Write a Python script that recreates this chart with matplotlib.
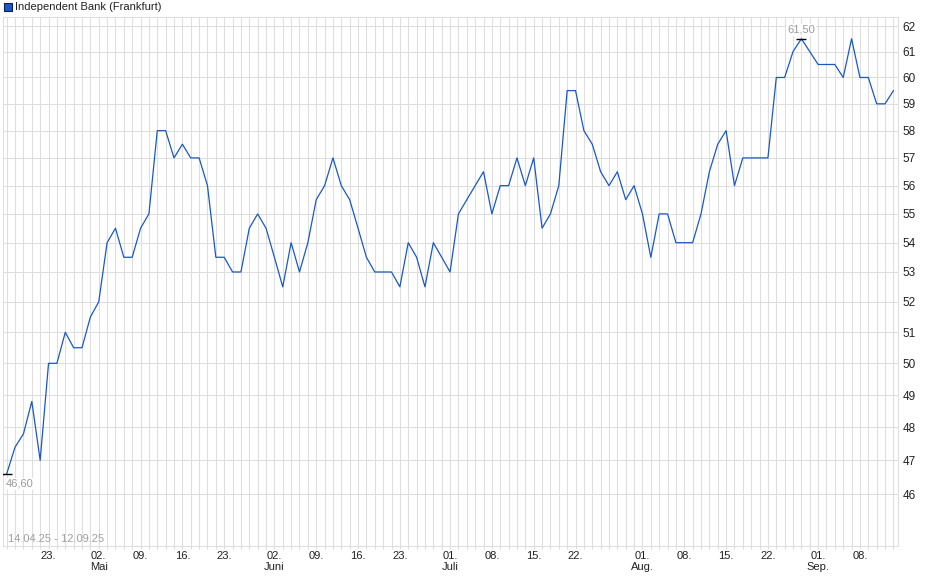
import numpy as np
import pandas as pd
import matplotlib.pyplot as plt
from matplotlib.patches import Rectangle
from matplotlib.ticker import FixedLocator, NullFormatter, NullLocator

plt.rcParams['font.family'] = ['Liberation Sans', 'DejaVu Sans']

# trading days Frankfurt 14.04.25 - 12.09.25 (holidays removed)
holidays = ['2025-04-18', '2025-04-21', '2025-05-01']
days = pd.bdate_range('2025-04-14', '2025-09-12')
days = days[~days.isin(pd.to_datetime(holidays))]

prices = [46.6, 47.4, 47.8, 48.8, 47.0, 50.0, 50.0, 51.0, 50.5, 50.5,
          51.5, 52.0, 54.0, 54.5, 53.5, 53.5, 54.5, 55.0, 58.0, 58.0,
          57.0, 57.5, 57.0, 57.0, 56.0, 53.5, 53.5, 53.0, 53.0, 54.5,
          55.0, 54.5, 53.5, 52.5, 54.0, 53.0, 54.0, 55.5, 56.0, 57.0,
          56.0, 55.5, 54.5, 53.5, 53.0, 53.0, 53.0, 52.5, 54.0, 53.5,
          52.5, 54.0, 53.5, 53.0, 55.0, 55.5, 56.0, 56.5, 55.0, 56.0,
          56.0, 57.0, 56.0, 57.0, 54.5, 55.0, 56.0, 59.5, 59.5, 58.0,
          57.5, 56.5, 56.0, 56.5, 55.5, 56.0, 55.0, 53.5, 55.0, 55.0,
          54.0, 54.0, 54.0, 55.0, 56.5, 57.5, 58.0, 56.0, 57.0, 57.0,
          57.0, 57.0, 60.0, 60.0, 61.0, 61.5, 61.0, 60.5, 60.5, 60.5,
          60.0, 61.5, 60.0, 60.0, 59.0, 59.0, 59.5]

tick_dates = ['2025-04-23', '2025-05-02', '2025-05-09', '2025-05-16', '2025-05-23',
              '2025-06-02', '2025-06-09', '2025-06-16', '2025-06-23',
              '2025-07-01', '2025-07-08', '2025-07-15', '2025-07-22',
              '2025-08-01', '2025-08-08', '2025-08-15', '2025-08-22',
              '2025-09-01', '2025-09-08']
tick_labels = ['23.', '02.\nMai', '09.', '16.', '23.',
               '02.\nJuni', '09.', '16.', '23.',
               '01.\nJuli', '08.', '15.', '22.',
               '01.\nAug.', '08.', '15.', '22.',
               '01.\nSep.', '08.']
y_ticks = list(range(46, 63))

W, H = 940, 579
fig = plt.figure(figsize=(W / 100, H / 100), dpi=100)
ax = fig.add_axes([2.7 / W, 1 - 545.7 / H, (898 - 2.7) / W, (545.7 - 16.5) / H])

x = np.arange(len(prices))
ax.plot(x, prices, color='#1a58c6', lw=0.9, zorder=3)

ax.set_yscale('log')
ax.set_xlim(-0.48, len(prices) - 0.45)
ax.set_ylim(44.51, 62.38)

# grid: every trading day, every integer price
ax.xaxis.set_minor_locator(FixedLocator(x))
tick_pos = [days.get_loc(pd.Timestamp(d)) for d in tick_dates]
ax.set_xticks(tick_pos)
ax.set_xticklabels(tick_labels, fontsize=8, color='#222222', linespacing=1.1)
ax.yaxis.set_major_locator(FixedLocator(y_ticks))
ax.yaxis.set_minor_locator(NullLocator())
ax.yaxis.set_minor_formatter(NullFormatter())
ax.set_yticklabels([str(v) for v in y_ticks])
ax.yaxis.tick_right()
ax.tick_params(axis='y', which='both', length=0, pad=3.5, labelsize=8.5, labelcolor='#222222')
ax.tick_params(axis='x', which='both', length=2.5, width=0.75, color='#dcdcdc', pad=1.5)
ax.grid(True, which='both', axis='x', color='#dedede', lw=0.75, zorder=0)
ax.grid(True, which='major', axis='y', color='#dedede', lw=0.75, zorder=0)
for s in ax.spines.values():
    s.set_color('#dedede')
    s.set_linewidth(0.75)

# min / max markers
imin = int(np.argmin(prices))
imax = int(np.argmax(prices))
ax.plot([imin, imax], [prices[imin], prices[imax]], ls='none', marker='_',
        ms=6.5, mew=1, color='black', zorder=4)
ax.annotate(f'{prices[imin]:.2f}'.replace('.', ','), (imin, prices[imin]),
            xytext=(-0.5, -10), textcoords='offset pixels', ha='left', va='center',
            fontsize=8, color='#9a9a9a', zorder=5,
            bbox=dict(boxstyle='square,pad=0.1', fc='white', ec='none'))
ax.annotate(f'{prices[imax]:.2f}'.replace('.', ','), (imax, prices[imax]),
            xytext=(0, 9), textcoords='offset pixels', ha='center', va='center',
            fontsize=8, color='#9a9a9a', zorder=5,
            bbox=dict(boxstyle='square,pad=0.1', fc='white', ec='none'))

fig.text(8 / W, 1 - 538.5 / H,
         days[0].strftime('%d.%m.%y') + ' - ' + days[-1].strftime('%d.%m.%y'),
         fontsize=8, color='#a0a0a0', va='center', ha='left')

# legend
fig.add_artist(Rectangle((3.5 / W, 1 - 10.5 / H), 8 / W, 8 / H, transform=fig.transFigure,
                         fc='#1a58c6', ec='#0a1f55', lw=0.8))
fig.text(15 / W, 1 - 6.5 / H, 'Independent Bank (Frankfurt)', fontsize=8,
         color='#222222', va='center', ha='left')

fig.savefig('out.png', dpi=100)
